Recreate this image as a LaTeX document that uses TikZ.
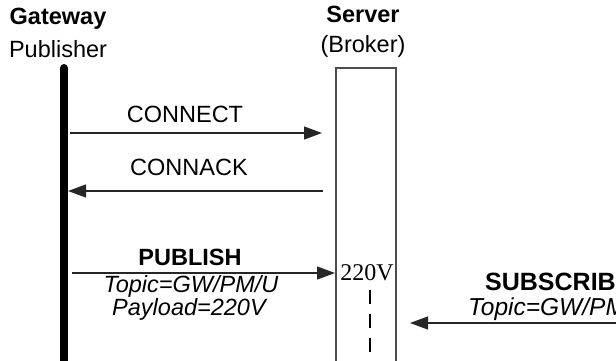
\documentclass[tikz,border=0pt]{standalone}
\usepackage{fontspec}
\setmainfont{Liberation Sans}
\newfontfamily\valfont{Liberation Serif}
\usetikzlibrary{arrows.meta}

\tikzset{
  lbl/.style={inner sep=0pt, anchor=base, font=\fontsize{23.5}{28}\selectfont},
  head/.style={lbl, font=\fontsize{23.5}{28}\selectfont\bfseries},
  itl/.style={lbl, font=\fontsize{23.5}{28}\selectfont\itshape},
  msg/.style={draw=black!85, line width=1.3pt, -{Triangle[length=18pt,width=13pt]}},
}

\begin{document}
\begin{tikzpicture}[x=1pt,y=-1pt]
	\useasboundingbox (0,0) rectangle (616,361);
	\clip (0,0) rectangle (616,361);

	% headers
	\path (58,25) node[head] (gw) {Gateway}
		(58,58) node[lbl] (pub) {Publisher}
		(363,23) node[head] (srv) {Server}
		(363,53) node[lbl] (brk) {(Broker)};

	% life lines
	\coordinate (gwtop) at (64,68);
	\coordinate (gwbot) at (64,390);
	\draw[line width=8pt, line cap=round] (gwtop) -- (gwbot);
	\draw[black!70, line width=1.2pt] (336,68) rectangle (396,390);
	\coordinate (dtop) at (370,290);
	\coordinate (dbot) at (370,380);
	\draw[line width=1.3pt, dash pattern=on 14pt off 10pt] (dtop) -- (dbot);

	% messages
	\path (185,122) node[lbl] (con) {CONNECT}
		(189,175) node[lbl] (ack) {CONNACK}
		(190,265) node[head] (pubm) {PUBLISH}
		(191,292) node[itl] (ptopic) {Topic=GW/PM/U}
		(189,315) node[itl] (pload) {Payload=220V}
		(367,280) node[lbl, font=\valfont\fontsize{24}{26}\selectfont] (val) {220V};
	\path (485,290) node[head, anchor=base west, font=\fontsize{25}{28}\selectfont\bfseries] (sub) {SUBSCRIBE}
		(468,315) node[itl, anchor=base west, font=\fontsize{24.5}{28}\selectfont\itshape] (stopic) {Topic=GW/PM/U};

	\coordinate (c1a) at (70,133);
	\coordinate (c1b) at (322,133);
	\coordinate (c2a) at (323,191);
	\coordinate (c2b) at (68,191);
	\coordinate (c3a) at (72,273);
	\coordinate (c3b) at (335,273);
	\coordinate (c4a) at (630,323);
	\coordinate (c4b) at (410,323);

	\draw[msg] (c1a) -- (c1b);
	\draw[msg] (c2a) -- (c2b);
	\draw[msg] (c3a) -- (c3b);
	\draw[msg] (c4a) -- (c4b);
\end{tikzpicture}
\end{document}
